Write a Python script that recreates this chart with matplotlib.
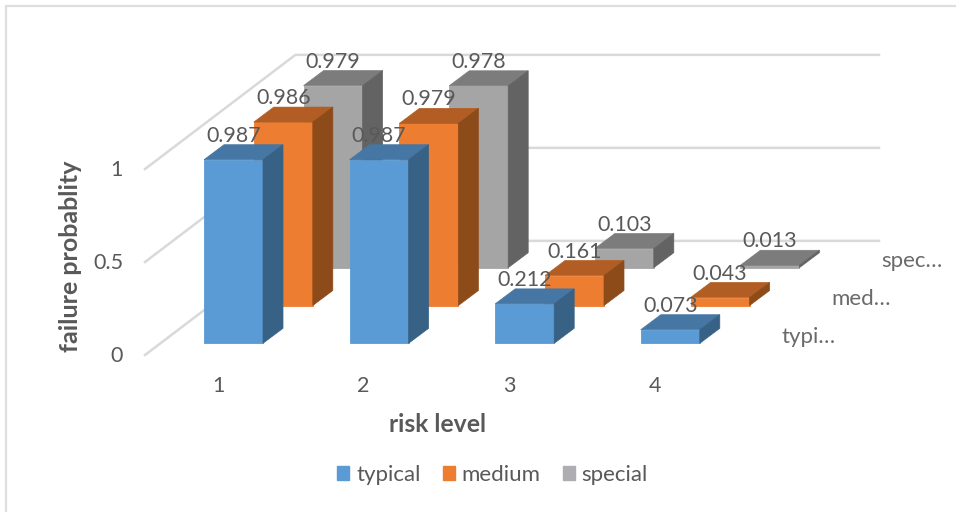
import matplotlib
matplotlib.use("Agg")
import matplotlib.pyplot as plt
from matplotlib.patches import Patch

plt.rcParams['font.family'] = ['Lato', 'DejaVu Sans']

categories = ['1', '2', '3', '4']
series_names = ['typical', 'medium', 'special']
typical = [0.987, 0.987, 0.212, 0.073]
medium = [0.986, 0.979, 0.161, 0.043]
special = [0.979, 0.978, 0.103, 0.013]
y_ticks = [0, 0.5, 1]
y_tick_labels = ['0', '0.5', '1']
series_short = ['typi…', 'med…', 'spec…']
x_title = 'risk level'
y_title = 'failure probablity'

front = ['#5B9BD5', '#ED7D31', '#A5A5A5']
top = ['#4676A3', '#B15D23', '#7C7C7C']
side = ['#376185', '#8E4B1A', '#636363']
text_c = '#595959'

W, H = 956, 512
PX_CAT = 145.6   # pixels per category
PX_VAL = 186.0   # pixels per unit of probability
DEP_X = 49.8 / PX_CAT   # shift per series, in data units
DEP_Y = 37.8 / PX_VAL
BAR_W = 59.0 / PX_CAT
SIDE_X = 20.0 / PX_CAT
SIDE_Y = 15.0 / PX_VAL
X0_PX, Y0_PX = 233.5, 343.3  # where category 1, value 0 of the front series sit

fig = plt.figure(figsize=(W / 100, H / 100), dpi=100, facecolor='white')
ax = fig.add_axes([0, 0, 1, 1])
ax.set_xlim(1 - X0_PX / PX_CAT, 1 + (W - X0_PX) / PX_CAT)
ax.set_ylim(-(H - Y0_PX) / PX_VAL, Y0_PX / PX_VAL)
ax.set_axis_off()


def dx(px):
    return px / PX_CAT


def dy(px):
    return px / PX_VAL


# chart frame (left and top edges)
ax.plot([6 / W, 6 / W, 1], [0, 1 - 5.5 / H, 1 - 5.5 / H], transform=ax.transAxes,
        color='#dedede', lw=1.6, zorder=1, solid_joinstyle='miter')

# gridlines: side wall and back wall
DEPTH_FRONT, DEPTH_BACK = -0.31, 2.71
wall_left_x = 1 - dx(88.5)
for v in y_ticks:
    xa = wall_left_x
    ya = v + DEPTH_FRONT * DEP_Y
    xb = xa + (DEPTH_BACK - DEPTH_FRONT) * DEP_X
    yb = v + DEPTH_BACK * DEP_Y
    xe = 1 + dx(879 - X0_PX)
    ax.plot([xa, xb, xe], [ya, yb, yb], color='#d9d9d9', lw=1.8, zorder=2,
            solid_joinstyle='miter')

values = [typical, medium, special]
z = 3
for s in (2, 1, 0):
    xs = [i + 1 + s * DEP_X for i in range(len(categories))]
    base = s * DEP_Y
    for x, v in zip(xs, values[s]):
        l, r = x - BAR_W / 2, x + BAR_W / 2
        ax.bar(x, v, BAR_W, bottom=base, color=front[s], edgecolor=front[s],
               linewidth=0.6, zorder=z)
        t = base + v
        ax.fill([l, r, r + SIDE_X, l + SIDE_X], [t, t, t + SIDE_Y, t + SIDE_Y],
                color=top[s], lw=0.5, zorder=z)
        ax.fill([r, r + SIDE_X, r + SIDE_X, r],
                [base, base + SIDE_Y, t + SIDE_Y, t],
                color=side[s], lw=0.5, zorder=z)
        z += 1

# data labels
for s in range(3):
    for i, v in enumerate(values[s]):
        ax.text(i + 1 + s * DEP_X, s * DEP_Y + v + dy(24), f'{v:.3f}',
                ha='center', va='center', fontsize=15.4, color=text_c, zorder=100)

# tick labels
for v, lab in zip(y_ticks, y_tick_labels):
    ax.text(1 - dx(X0_PX - 123), v - dy(12.5), lab, ha='right', va='center',
            fontsize=15.5, color=text_c, zorder=100)
for i, lab in enumerate(categories):
    ax.text(i + 1 - dx(15.5), -dy(43), lab, ha='center', va='center',
            fontsize=15.5, color=text_c, zorder=100)
for s, lab in enumerate(series_short):
    ax.text(1 + dx(782 - X0_PX) + s * DEP_X, s * DEP_Y + dy(6.5), lab,
            ha='left', va='center', fontsize=16, color='#6a6a6a', zorder=100)

ax.text(1 + dx(437 - X0_PX), -dy(81), x_title, ha='center', va='center',
        fontsize=17.8, fontweight='bold', color=text_c)
ax.text(1 + dx(70 - X0_PX), dy(Y0_PX - 256), y_title, ha='center', va='center',
        rotation=90, fontsize=18, fontweight='bold', color=text_c)

handles = [Patch(color=c, label=n) for c, n in zip(['#5B9BD5', '#ED7D31', '#AEAEB2'], series_names)]
ax.legend(handles=handles, ncol=3, loc='center', bbox_to_anchor=(492.5 / W, 1 - 475 / H),
          frameon=False, fontsize=16, handlelength=0.55, handleheight=0.55,
          handletextpad=0.3, columnspacing=1.0, labelcolor=text_c)

fig.savefig('out.png', dpi=100)
